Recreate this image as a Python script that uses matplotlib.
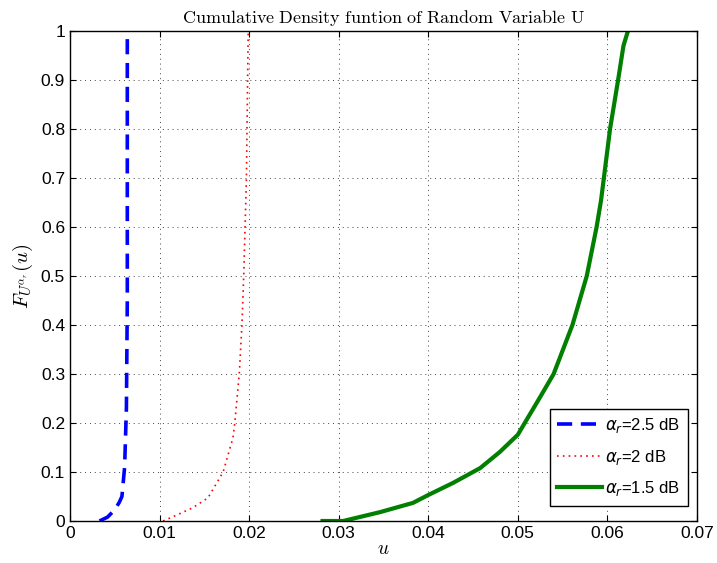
import matplotlib
matplotlib.use("Agg")
import matplotlib.pyplot as plt
from matplotlib.font_manager import FontProperties

# alpha_r = 2.5 dB
u_25 = [0.0033, 0.0042, 0.0050, 0.0055, 0.0058, 0.0061, 0.0063, 0.0064, 0.0064, 0.0064]
F_25 = [0.0, 0.008, 0.023, 0.038, 0.05, 0.11, 0.23, 0.45, 0.75, 1.0]

# alpha_r = 2 dB
u_2 = [0.0104, 0.0119, 0.0137, 0.0154, 0.0171, 0.0182, 0.0184, 0.0189, 0.0192, 0.0194,
       0.0197, 0.0198, 0.0199]
F_2 = [0.0, 0.012, 0.027, 0.047, 0.10, 0.17, 0.20, 0.30, 0.40, 0.50,
       0.70, 0.85, 1.0]

# alpha_r = 1.5 dB
u_15 = [0.0282, 0.0305, 0.0346, 0.0383, 0.0400, 0.0428, 0.0458, 0.0480, 0.0500, 0.0511,
        0.0524, 0.0540, 0.0561, 0.0577, 0.0588, 0.0593, 0.0603, 0.0612, 0.0618, 0.0623]
F_15 = [0.0, 0.0, 0.018, 0.037, 0.053, 0.078, 0.108, 0.141, 0.176, 0.21,
        0.25, 0.30, 0.40, 0.50, 0.60, 0.655, 0.80, 0.90, 0.97, 1.0]

xticks = [0, 0.01, 0.02, 0.03, 0.04, 0.05, 0.06, 0.07]
xticklabels = ['0', '0.01', '0.02', '0.03', '0.04', '0.05', '0.06', '0.07']
yticks = [0, 0.1, 0.2, 0.3, 0.4, 0.5, 0.6, 0.7, 0.8, 0.9, 1]
yticklabels = ['0', '0.1', '0.2', '0.3', '0.4', '0.5', '0.6', '0.7', '0.8', '0.9', '1']

plt.rcParams['font.family'] = ['Liberation Sans', 'DejaVu Sans']
plt.rcParams['mathtext.fontset'] = 'cm'

fig = plt.figure(figsize=(7.17, 5.63), dpi=100)
ax = fig.add_axes([0.0976, 0.0746, 0.8744, 0.8704])

ax.plot(u_25, F_25, color='blue', linestyle=(0, (4.2, 2.4)), linewidth=2.6,
        label=r'$\alpha_r$=2.5 dB')
ax.plot(u_2, F_2, color='red', linestyle=(0, (1, 2.5)), linewidth=1.2,
        label=r'$\alpha_r$=2 dB')
ax.plot(u_15, F_15, color='#007f00', linestyle='-', linewidth=3,
        label=r'$\alpha_r$=1.5 dB')

ax.set_xlim(0, 0.07)
ax.set_ylim(0, 1)
ax.set_xticks(xticks)
ax.set_xticklabels(xticklabels)
ax.set_yticks(yticks)
ax.set_yticklabels(yticklabels)
ax.tick_params(direction='in', top=True, right=True, labelsize=12.5, length=4)
ax.grid(True, linestyle=(0, (1, 4)), color='#444444', linewidth=0.7)

ax.set_title(r'$\mathrm{Cumulative\ Density\ funtion\ of\ Random\ Variable\ U}$',
             fontsize=13, pad=6)
ax.set_xlabel(r'$u$', fontsize=14, labelpad=0)
ax.set_ylabel(r'$F_{U^{\alpha_r}}(u)$', fontsize=15, labelpad=4)

prop = FontProperties(family='Liberation Sans', size=12, math_fontfamily='dejavusans')
leg = ax.legend(loc='lower right', prop=prop, fancybox=False, edgecolor='black',
                framealpha=1, borderpad=0.45, handlelength=2.7, handletextpad=0.2,
                labelspacing=0.75, borderaxespad=0, bbox_to_anchor=(0.986, 0.031))
leg.get_frame().set_linewidth(1.0)

for s in ax.spines.values():
    s.set_linewidth(1.0)

fig.savefig('out.png', dpi=100)
